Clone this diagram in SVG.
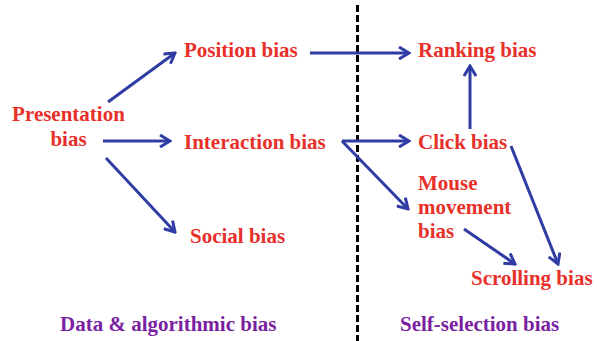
<svg xmlns="http://www.w3.org/2000/svg" width="597" height="341" viewBox="0 0 597 341">
<style>
.n{font-family:"Liberation Serif","Times New Roman",serif;font-weight:bold;font-size:21px;fill:#e8302a}
.p{font-family:"Liberation Serif","Times New Roman",serif;font-weight:bold;font-size:21px;fill:#7b1fa2}
.c line{stroke:#2e3ca3;stroke-width:3;marker-end:url(#a)}
</style>
<defs>
<marker id="a" viewBox="0 0 14 14" refX="12" refY="7" markerWidth="14" markerHeight="14" markerUnits="userSpaceOnUse" orient="auto">
<path d="M2,1 L12,7 L2,13" fill="none" stroke="#2e3ca3" stroke-width="3" stroke-linejoin="miter"/>
</marker>
</defs>
<rect width="597" height="341" fill="#fff"/>
<line x1="357.5" y1="5" x2="357.5" y2="341" stroke="#000" stroke-width="3" stroke-dasharray="7,3"/>
<g class="c" id="connectors">
<line x1="108" y1="102" x2="175" y2="53"/>
<line x1="103" y1="141" x2="170" y2="141"/>
<line x1="106" y1="158" x2="175" y2="232"/>
<line x1="310" y1="53" x2="409" y2="53"/>
<line x1="342" y1="141" x2="409" y2="141"/>
<line x1="342" y1="141" x2="408" y2="209"/>
<line x1="470" y1="129" x2="470" y2="66"/>
<line x1="511" y1="146" x2="558" y2="264"/>
<line x1="464" y1="229" x2="515" y2="264"/>
</g>
<g id="presentation"><text class="n" x="68.5" y="121" text-anchor="middle">Presentation</text><text class="n" x="68.5" y="146" text-anchor="middle">bias</text></g>
<g id="position"><text class="n" x="184" y="57">Position bias</text></g>
<g id="interaction"><text class="n" x="184" y="149">Interaction bias</text></g>
<g id="social"><text class="n" x="190" y="243">Social bias</text></g>
<g id="ranking"><text class="n" x="418" y="57">Ranking bias</text></g>
<g id="click"><text class="n" x="418" y="149">Click bias</text></g>
<g id="mouse"><text class="n" x="418" y="190">Mouse</text><text class="n" x="418" y="214">movement</text><text class="n" x="418" y="238">bias</text></g>
<g id="scrolling"><text class="n" x="471" y="285">Scrolling bias</text></g>
<g id="data"><text class="p" x="60" y="331">Data &amp; algorithmic bias</text></g>
<g id="self"><text class="p" x="400" y="331">Self-selection bias</text></g>
</svg>
